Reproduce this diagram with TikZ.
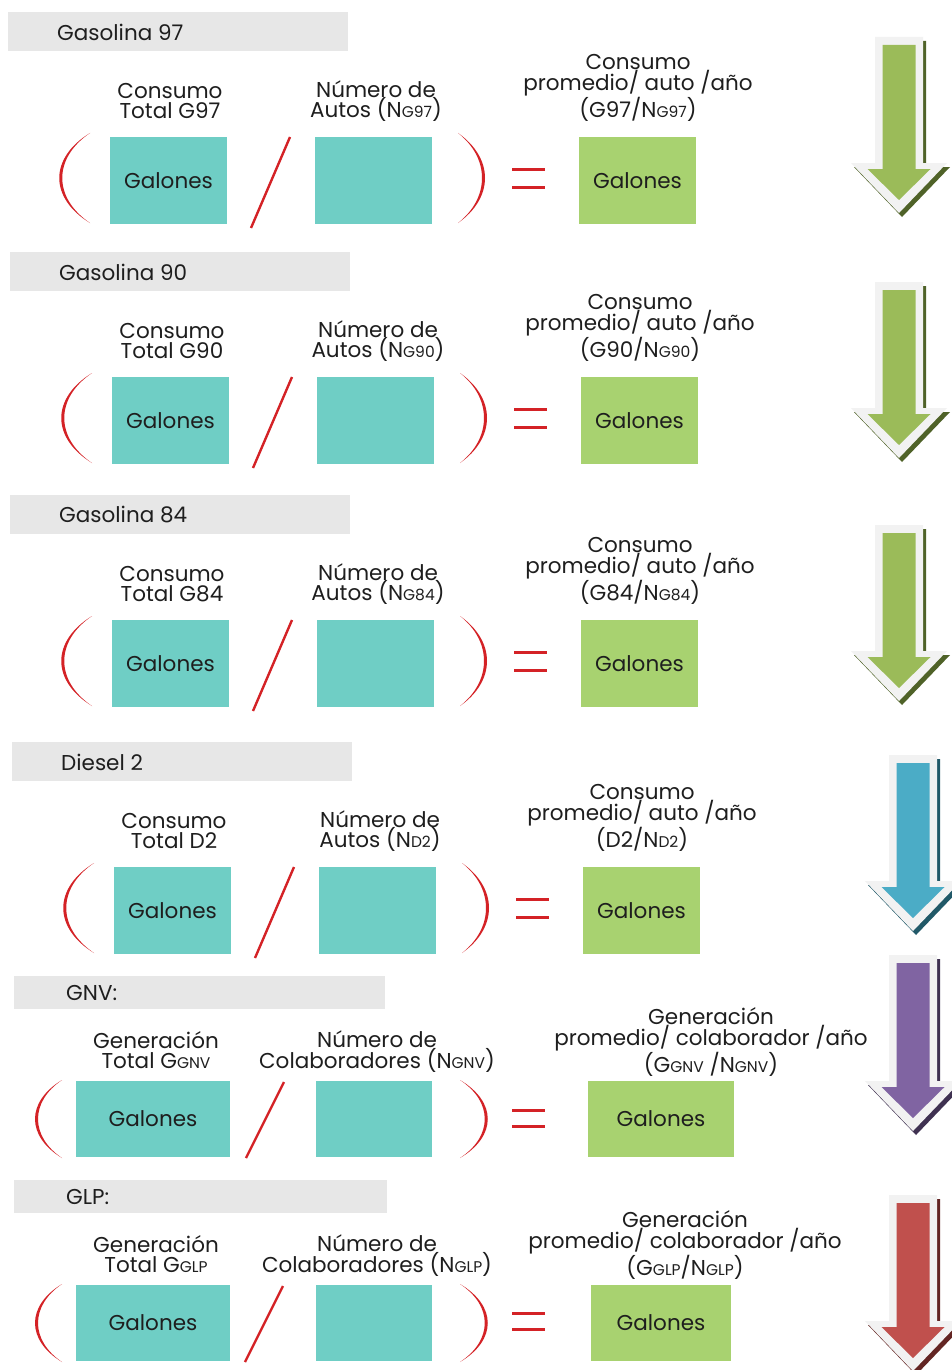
\documentclass[tikz,border=0pt]{standalone}
\usepackage{fontspec}
\setmainfont{Poppins}
\definecolor{barGray}{RGB}{231,231,231}
\definecolor{tealC}{RGB}{111,206,197}
\definecolor{greenC}{RGB}{168,210,112}
\definecolor{redC}{RGB}{212,34,38}
\definecolor{txtC}{RGB}{30,30,30}
\definecolor{arrG}{RGB}{155,187,89}\definecolor{arrGs}{RGB}{79,98,40}
\definecolor{arrB}{RGB}{75,172,198}\definecolor{arrBs}{RGB}{33,89,104}
\definecolor{arrP}{RGB}{128,100,162}\definecolor{arrPs}{RGB}{63,49,81}
\definecolor{arrR}{RGB}{192,80,77}\definecolor{arrRs}{RGB}{99,37,35}
\definecolor{arrBorder}{RGB}{242,242,242}
\newcommand\gsub[1]{{\fontsize{15.5}{15.5}\selectfont #1}}
\newcommand\lpar[4]{% x top, y top, y bottom, bulge control
  \fill[redC] (#1,#2) .. controls (#4,{#2+0.28*(#3-#2)}) and (#4,{#2+0.72*(#3-#2)}) .. (#1,#3)
     .. controls ({#4+4},{#2+0.72*(#3-#2)}) and ({#4+4},{#2+0.28*(#3-#2)}) .. cycle;}
\newcommand\rpar[4]{%
  \fill[redC] (#1,#2) .. controls (#4,{#2+0.28*(#3-#2)}) and (#4,{#2+0.72*(#3-#2)}) .. (#1,#3)
     .. controls ({#4-4},{#2+0.72*(#3-#2)}) and ({#4-4},{#2+0.28*(#3-#2)}) .. cycle;}
\newcommand\bigdownarrow[4]{% cx, y0, fill, shadow
  \begin{scope}[shift={(#1,#2)}]
  \fill[#4] (-21,4) -- (27,4) -- (27,130) -- (51,130) -- (3,180) -- (-45,130) -- (-21,130) -- cycle;
  \fill[arrBorder] (-24,0) -- (24,0) -- (24,126) -- (48,126) -- (0,176) -- (-48,126) -- (-24,126) -- cycle;
  \fill[#3] (-16.5,8) -- (16.5,8) -- (16.5,132) -- (31.5,132) -- (0,163) -- (-31.5,132) -- (-16.5,132) -- cycle;
  \end{scope}}
\newcommand\secA[7]{%
  \begin{scope}[shift={(#2,#3)}]
  \fill[barGray] (8,12) rectangle (348,51);
  \node[hdr] (#1h) at (57,32) {#4};
  \node[lbl] (#1l1) at (170,101) {#5};
  \node[lbl] (#1l2) at (376,101) {#6};
  \node[lbl] (#1t) at (638,88) {#7};
  \node[tealbox, minimum width=117, minimum height=87] (#1a) at (168.5,180.5) {Galones};
  \node[tealbox, minimum width=117, minimum height=87] (#1b) at (373.5,180.5) {};
  \node[greenbox, minimum width=117, minimum height=87] (#1c) at (637.5,180.5) {Galones};
  \lpar{90}{133}{223}{49}
  \rpar{458}{133}{223}{494}
  \draw[redC, line width=2.4] (251,228) -- (290,137);
  \draw[redC, line width=3] (512,169) -- (545,169) (512,187) -- (545,187);
  \end{scope}}
\begin{document}
\begin{tikzpicture}[x=1pt,y=-1pt,
  hdr/.style={anchor=west, inner sep=0, text=txtC, font=\fontsize{21.5}{20}\selectfont},
  lbl/.style={align=center, inner sep=0, text=txtC, font=\fontsize{21.5}{20.5}\selectfont},
  tealbox/.style={fill=tealC, inner sep=0, text=txtC, font=\fontsize{21.5}{20}\selectfont},
  greenbox/.style={fill=greenC, inner sep=0, text=txtC, font=\fontsize{21.5}{20}\selectfont}]
\useasboundingbox[fill=white] (0,0) rectangle (952,1370);

\secA{s1}{0}{0}{Gasolina 97}{Consumo\\Total G97}{Número de\\Autos (N\gsub{G97})}{Consumo\\promedio/ auto /año\\(G97/N\gsub{G97})}
\secA{s2}{2}{240}{Gasolina 90}{Consumo\\Total G90}{Número de\\Autos (N\gsub{G90})}{Consumo\\promedio/ auto /año\\(G90/N\gsub{G90})}
\secA{s3}{2}{483}{Gasolina 84}{Consumo\\Total G84}{Número de\\Autos (N\gsub{G84})}{Consumo\\promedio/ auto /año\\(G84/N\gsub{G84})}
\secA{s4}{4}{730}{Diesel 2}{Consumo\\Total D2}{Número de\\Autos (N\gsub{D2})}{Consumo\\promedio/ auto /año\\(D2/N\gsub{D2})}

% GNV
\fill[barGray] (14,976) rectangle (385,1009);
\node[hdr] (s5h) at (66,993) {GNV:};
\node[lbl] (s5l1) at (156,1050) {Generación\\Total G\gsub{GNV}};
\node[lbl] (s5l2) at (377,1051.5) {Número de\\Colaboradores (N\gsub{GNV})};
\node[lbl] (s5t) at (711,1042) {Generación\\promedio/ colaborador /año\\(G\gsub{GNV} /N\gsub{GNV})};
\node[tealbox, minimum width=154, minimum height=76] (s5a) at (153,1119) {Galones};
\node[tealbox, minimum width=116, minimum height=76] (s5b) at (374,1119) {};
\node[greenbox, minimum width=146, minimum height=76] (s5c) at (661,1119) {Galones};
\lpar{62}{1080}{1158}{26}
\rpar{460}{1080}{1158}{497}
\draw[redC, line width=2.4] (246,1158) -- (284,1082);
\draw[redC, line width=3] (512,1110) -- (545,1110) (512,1126) -- (545,1126);

% GLP
\fill[barGray] (14,1180) rectangle (387,1213);
\node[hdr] (s6h) at (66,1197) {GLP:};
\node[lbl] (s6l1) at (156,1254) {Generación\\Total G\gsub{GLP}};
\node[lbl] (s6l2) at (377,1255.5) {Número de\\Colaboradores (N\gsub{GLP})};
\node[lbl] (s6t) at (685,1245) {Generación\\promedio/ colaborador /año\\(G\gsub{GLP}/N\gsub{GLP})};
\node[tealbox, minimum width=154, minimum height=76] (s6a) at (153,1323) {Galones};
\node[tealbox, minimum width=116, minimum height=76] (s6b) at (374,1323) {};
\node[greenbox, minimum width=140, minimum height=76] (s6c) at (661,1323) {Galones};
\lpar{62}{1284}{1362}{26}
\rpar{460}{1284}{1362}{497}
\draw[redC, line width=2.4] (245,1362) -- (283,1286);
\draw[redC, line width=3] (512,1313) -- (545,1313) (512,1329) -- (545,1329);

% arrows
\bigdownarrow{899}{37}{arrG}{arrGs}
\bigdownarrow{899}{282}{arrG}{arrGs}
\bigdownarrow{899}{525}{arrG}{arrGs}
\bigdownarrow{913}{755}{arrB}{arrBs}
\bigdownarrow{913}{955}{arrP}{arrPs}
\bigdownarrow{913}{1195}{arrR}{arrRs}
\end{tikzpicture}
\end{document}
